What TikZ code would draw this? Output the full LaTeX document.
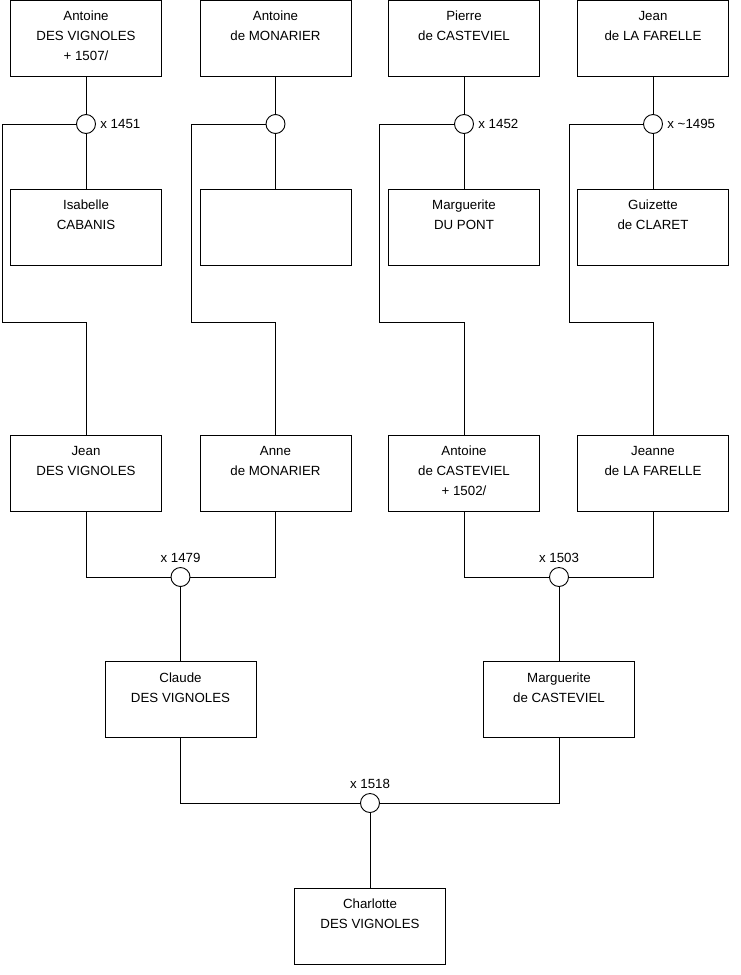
\documentclass[tikz,border=0pt]{standalone}
\usepackage{fontspec}
\setmainfont{Liberation Sans}
\usetikzlibrary{positioning}

\begin{document}
\begin{tikzpicture}
  [
    x=1pt, y=-1pt, line width=0.9pt,
    font=\fontsize{13.3}{20}\selectfont,
    % cases des personnes, le texte reste en haut
    personne/.style={draw, minimum width=151pt, minimum height=76pt, inner sep=0pt,
      label={[align=center, anchor=north, yshift=-8pt]north:#1}},
    union/.style={circle, draw, fill=white, minimum size=19pt, inner sep=0pt},
    annee/.style={inner sep=4pt}
  ]
  \useasboundingbox (0,0) rectangle (740,975);

  % generation des arriere-grands-parents
  \node[personne={Antoine\\DES VIGNOLES\\+ 1507/}] (a1) at (86,38) {};
  \node[personne={Antoine\\de MONARIER}] (a2) at (275.5,38) {};
  \node[personne={Pierre\\de CASTEVIEL}] (a3) at (464,38) {};
  \node[personne={Jean\\de LA FARELLE}] (a4) at (653,38) {};

  \node[personne={Isabelle\\CABANIS}] (b1) at (86,227) {};
  \node[personne={}] (b2) at (275.5,227) {};
  \node[personne={Marguerite\\DU PONT}] (b3) at (464,227) {};
  \node[personne={Guizette\\de CLARET}] (b4) at (653,227) {};

  \node[union] (u1) at (86,124) {};
  \node[union] (u2) at (275.5,124) {};
  \node[union] (u3) at (464,124) {};
  \node[union] (u4) at (653,124) {};
  \node[annee, right=0pt of u1] (d1) {x 1451};
  \node[annee, right=0pt of u3] (d3) {x 1452};
  \node[annee, right=0pt of u4] (d4) {x \textasciitilde1495};

  % grands-parents
  \node[personne={Jean\\DES VIGNOLES}] (g1) at (86,473) {};
  \node[personne={Anne\\de MONARIER}] (g2) at (275.5,473) {};
  \node[personne={Antoine\\de CASTEVIEL\\+ 1502/}] (g3) at (464,473) {};
  \node[personne={Jeanne\\de LA FARELLE}] (g4) at (653,473) {};

  \coordinate (k1) at (2,322);
  \coordinate (k2) at (191,322);
  \coordinate (k3) at (379,322);
  \coordinate (k4) at (569,322);

  \draw (a1) -- (u1) -- (b1);
  \draw (a2) -- (u2) -- (b2);
  \draw (a3) -- (u3) -- (b3);
  \draw (a4) -- (u4) -- (b4);
  \draw (u1) -| (k1) -| (g1);
  \draw (u2) -| (k2) -| (g2);
  \draw (u3) -| (k3) -| (g3);
  \draw (u4) -| (k4) -| (g4);

  % parents
  \node[union] (u5) at (180.5,577) {};
  \node[union] (u6) at (559,577) {};
  \node[annee, above=0pt of u5] (d5) {x 1479};
  \node[annee, above=0pt of u6] (d6) {x 1503};

  \node[personne={Claude\\DES VIGNOLES}] (p1) at (180.5,699.5) {};
  \node[personne={Marguerite\\de CASTEVIEL}] (p2) at (559,699.5) {};

  \draw (g1) |- (u5);
  \draw (g2) |- (u5);
  \draw (g3) |- (u6);
  \draw (g4) |- (u6);
  \draw (u5) -- (p1);
  \draw (u6) -- (p2);

  % Charlotte
  \node[union] (u7) at (370,803) {};
  \node[annee, above=0pt of u7] (d7) {x 1518};
  \node[personne={Charlotte\\DES VIGNOLES}] (ch) at (370,926) {};

  \draw (p1) |- (u7);
  \draw (p2) |- (u7);
  \draw (u7) -- (ch);
\end{tikzpicture}
\end{document}
